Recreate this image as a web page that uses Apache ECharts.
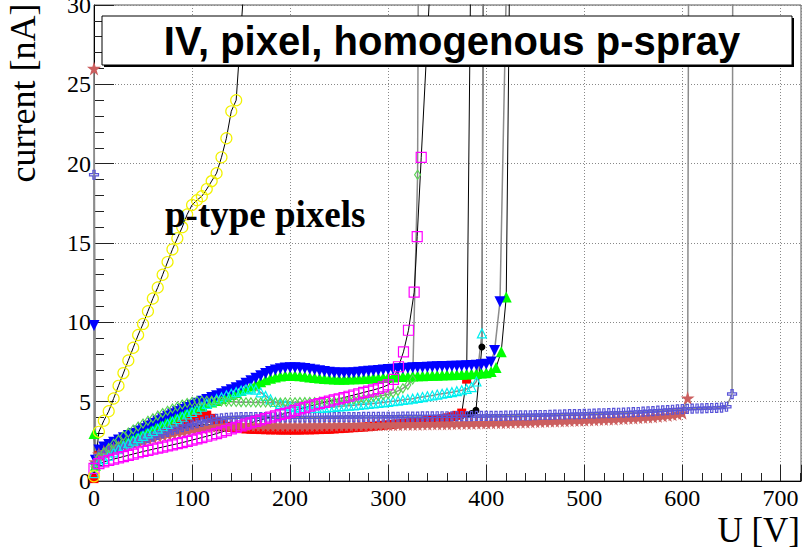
<!DOCTYPE html>
<html><head><meta charset="utf-8">
<script src="https://cdn.jsdelivr.net/npm/echarts@6/dist/echarts.min.js"></script>
<style>html,body{margin:0;padding:0;background:#fff}#c{width:808px;height:555px}</style>
</head><body><div id="c"></div>
<script>
// ---- measurement voltages of the body points (V) ----
const volts = [
  5,10,15,20,25,30,35,40,45,50,
  55,60,65,70,75,80,85,90,95,100,
  105,110,115,120,125,130,135,140,145,150,
  155,160,165,170,175,180,185,190,195,200,
  205,210,215,220,225,230,235,240,245,250,
  255,260,265,270,275,280,285,290,295,300,
  305,310,315,320,325,330,335,340,345,350,
  355,360,365,370,375,380,385,390,395,400,
  405,410,415,420,425,430,435,440,445,450,
  455,460,465,470,475,480,485,490,495,500,
  505,510,515,520,525,530,535,540,545,550,
  555,560,565,570,575,580,585,590,595,600,
  605,610,615,620,625,630,635,640,645
];
const xTicks = [0,100,200,300,400,500,600,700];
const yTicks = [0,5,10,15,20,25,30];

// ---- black filled circles ----
const blackHead = [[0,0.35]];
const blackBody = [
  1.5,1.7,1.85,2.0,2.12,2.24,2.36,2.47,2.58,2.69,
  2.8,2.9,3.0,3.08,3.15,3.2,3.25,3.3,3.33,3.36,
  3.38,3.4,3.4,3.4,3.38,3.36,3.33,3.3,3.28,3.26,
  3.24,3.22,3.21,3.2,3.19,3.18,3.18,3.17,3.17,3.17,
  3.17,3.17,3.18,3.18,3.19,3.2,3.21,3.22,3.24,3.26,
  3.28,3.3,3.32,3.34,3.36,3.38,3.41,3.44,3.47,3.5,
  3.53,3.56,3.59,3.62,3.65,3.68,3.71,3.75,3.79,3.83,
  3.88,3.93,3.99,4.05,4.12,4.18,4.25
];
const blackTail = [[389.5,4.45],[395.6,8.44],[397.6,40]];

// ---- red filled squares ----
const redHead = [[0,0.15]];
const redBody = [
  1.6,1.78,1.93,2.07,2.2,2.32,2.44,2.55,2.66,2.77,
  2.88,2.98,3.08,3.18,3.28,3.4,3.55,3.7,3.85,3.98,
  4.12,4.22,4.15,3.95,3.72,3.55,3.45,3.38,3.33,3.3,
  3.28,3.26,3.25,3.24,3.23,3.22,3.22,3.21,3.21,3.21,
  3.21,3.21,3.22,3.22,3.23,3.24,3.25,3.26,3.28,3.3,
  3.32,3.34,3.36,3.38,3.4,3.42,3.45,3.48,3.51,3.54,
  3.57,3.6,3.63,3.66,3.69,3.72,3.75,3.79,3.83,3.87,
  3.92,3.98,4.05,4.14,4.28
];
const redTail = [[380,6.42],[384.3,33]];

// ---- green filled triangles ----
const greenTriHead = [[0,3.0],[1.5,1.0]];
const greenTriBody = [
  1.75,1.95,2.1,2.25,2.4,2.55,2.7,2.85,3.0,3.15,
  3.3,3.45,3.6,3.75,3.9,4.05,4.2,4.33,4.46,4.58,
  4.68,4.78,4.88,4.98,5.08,5.2,5.32,5.45,5.58,5.7,
  5.84,5.98,6.12,6.26,6.38,6.48,6.56,6.62,6.65,6.66,
  6.65,6.63,6.6,6.56,6.52,6.49,6.46,6.44,6.43,6.42,
  6.42,6.43,6.44,6.45,6.46,6.48,6.5,6.51,6.53,6.55,
  6.56,6.58,6.59,6.6,6.62,6.63,6.64,6.65,6.66,6.67,
  6.68,6.69,6.7,6.72,6.73,6.74,6.76,6.78,6.8,6.83,
  6.9,7.15
];
const greenTriTail = [[415.3,8.15],[420.4,11.6],[425.2,40]];

// ---- blue filled triangles (down) ----
const blueTriHead = [[0,9.8],[1.5,1.3]];
const blueTriBody = [
  1.95,2.15,2.3,2.45,2.58,2.72,2.86,3.0,3.15,3.3,
  3.45,3.62,3.78,3.93,4.08,4.22,4.36,4.5,4.64,4.78,
  4.9,5.02,5.14,5.26,5.38,5.5,5.62,5.75,5.88,6.0,
  6.16,6.32,6.48,6.63,6.77,6.9,7.0,7.07,7.12,7.14,
  7.14,7.12,7.09,7.05,7.0,6.95,6.9,6.86,6.83,6.8,
  6.8,6.81,6.83,6.85,6.88,6.91,6.94,6.97,7.0,7.03,
  7.05,7.07,7.09,7.11,7.13,7.15,7.16,7.17,7.18,7.2,
  7.21,7.22,7.23,7.24,7.25,7.26,7.28,7.3,7.32,7.36,
  7.5
];
const blueTriTail = [[408.5,8.22],[414,11.3],[423.4,40]];

// ---- salmon filled stars ----
const starHead = [[0,26],[1.5,1.2]];
const starBody = [
  1.7,1.85,1.95,2.05,2.15,2.25,2.34,2.43,2.51,2.59,
  2.67,2.75,2.83,2.9,2.97,3.03,3.1,3.16,3.22,3.28,
  3.33,3.38,3.42,3.45,3.48,3.5,3.52,3.53,3.54,3.54,
  3.54,3.53,3.53,3.53,3.52,3.52,3.52,3.51,3.51,3.51,
  3.51,3.51,3.51,3.52,3.52,3.52,3.53,3.53,3.53,3.54,
  3.54,3.54,3.55,3.55,3.55,3.56,3.56,3.56,3.57,3.57,
  3.58,3.58,3.59,3.59,3.6,3.6,3.61,3.61,3.62,3.62,
  3.63,3.63,3.64,3.64,3.65,3.66,3.66,3.67,3.68,3.68,
  3.69,3.7,3.7,3.71,3.72,3.73,3.73,3.74,3.75,3.76,
  3.77,3.78,3.79,3.8,3.81,3.82,3.83,3.84,3.85,3.86,
  3.87,3.88,3.9,3.91,3.92,3.93,3.95,3.96,3.98,3.99,
  4.01,4.03,4.05,4.07,4.1,4.13,4.16,4.2,4.24,4.3
];
const starTail = [[605.4,5.23],[606.6,40]];

// ---- blue-violet open crosses ----
const crossHead = [[0,19.3],[1.5,1.1]];
const crossBody = [
  1.6,1.75,1.88,2.0,2.1,2.2,2.3,2.4,2.5,2.6,
  2.7,2.8,2.9,3.0,3.1,3.2,3.3,3.4,3.48,3.56,
  3.65,3.73,3.8,3.86,3.91,3.95,3.98,4.0,4.01,4.02,
  4.03,4.03,4.03,4.02,4.02,4.01,4.01,4.01,4.01,4.01,
  4.01,4.01,4.01,4.01,4.01,4.01,4.02,4.02,4.02,4.02,
  4.03,4.03,4.03,4.03,4.04,4.04,4.04,4.04,4.05,4.05,
  4.05,4.05,4.06,4.06,4.06,4.06,4.07,4.07,4.07,4.08,
  4.08,4.08,4.08,4.09,4.09,4.09,4.09,4.1,4.1,4.1,
  4.11,4.11,4.11,4.12,4.12,4.13,4.13,4.14,4.14,4.15,
  4.16,4.16,4.17,4.18,4.19,4.2,4.21,4.21,4.22,4.23,
  4.24,4.25,4.26,4.27,4.28,4.29,4.3,4.31,4.32,4.34,
  4.35,4.37,4.39,4.41,4.43,4.45,4.47,4.49,4.51,4.53,
  4.55,4.56,4.57,4.58,4.59,4.6,4.61,4.63,4.68
];
const crossTail = [[650.7,5.48],[651.6,40]];

// ---- cyan open triangles ----
const cyanHead = [[0,0.5]];
const cyanBody = [
  1.2,1.4,1.6,1.8,2.0,2.2,2.38,2.55,2.7,2.85,
  3.0,3.15,3.3,3.45,3.6,3.75,3.9,4.05,4.2,4.35,
  4.5,4.68,4.86,5.02,5.16,5.28,5.4,5.5,5.6,5.7,
  5.78,5.84,5.76,5.58,5.36,5.15,4.98,4.86,4.77,4.7,
  4.65,4.62,4.6,4.6,4.6,4.61,4.63,4.65,4.67,4.7,
  4.72,4.75,4.77,4.8,4.83,4.86,4.89,4.92,4.95,4.99,
  5.03,5.07,5.11,5.15,5.19,5.24,5.29,5.34,5.39,5.45,
  5.5,5.55,5.6,5.66,5.72,5.8,5.92,6.27
];
const cyanTail = [[395.6,9.3],[397.2,40]];

// ---- light green open diamonds ----
const diamHead = [[0,0.9]];
const diamBody = [
  1.5,1.8,2.08,2.35,2.6,2.84,3.05,3.25,3.44,3.62,
  3.8,3.96,4.12,4.28,4.43,4.57,4.7,4.82,4.92,5.0,
  5.04,5.06,5.06,5.05,5.04,5.02,5.0,4.99,4.98,4.97,
  4.96,4.96,4.95,4.95,4.95,4.95,4.95,4.95,4.96,4.96,
  4.96,4.97,4.97,4.98,4.98,4.99,5.0,5.01,5.02,5.04,
  5.06,5.09,5.12,5.16,5.2,5.24,5.29,5.34,5.4,5.47,
  5.56,5.68,5.84,6.05,6.4
];
const diamTail = [[330,19.3],[331.2,40]];

// ---- magenta open squares ----
const magHead = [[0,0.8]];
const magBody = [
  1.1,1.2,1.3,1.38,1.46,1.54,1.62,1.7,1.78,1.86,
  1.93,2.0,2.07,2.14,2.21,2.28,2.35,2.42,2.5,2.58,
  2.66,2.74,2.82,2.9,2.99,3.08,3.18,3.28,3.38,3.48,
  3.58,3.67,3.76,3.85,3.94,4.02,4.1,4.18,4.26,4.34,
  4.45,4.54,4.63,4.72,4.8,4.88,4.96,5.04,5.11,5.18,
  5.26,5.34,5.42,5.5,5.58,5.66,5.74,5.83,5.93,6.06
];
const magTail = [[305.4,6.4],[310.5,7.2],[315.6,8.14],[320.7,9.5],[326.5,11.9],[329.6,15.4],[333.7,20.4],[345,34]];

// ---- yellow open circles ----
const yelHead = [[0,0.3]];
const yelBody = [
  3.1,3.8,4.4,5.2,6.0,6.8,7.6,8.4,9.2,9.9,
  10.7,11.5,12.2,13.0,13.8,14.6,15.3,16.0,16.8,17.4,
  17.7,17.95,18.4,18.9,19.4,20.4,21.6,23.3,24.0
];
const yelTail = [[156,34]];

function pts(head, body, tail) {
  const out = head.map(p => p.slice());
  body.forEach((v, i) => out.push([volts[i], v]));
  return out.concat(tail);
}

const STAR = 'path://M50,0 L61,35 L98,35 L68,57 L79,91 L50,70 L21,91 L32,57 L2,35 L39,35 Z';
const CROSS = 'path://M3,0 H5 V3 H8 V5 H5 V8 H3 V5 H0 V3 H3 Z';
const CLEAR = 'rgba(0,0,0,0)';
const GREY = '#8c8c8c';

const defs = [
  {d: pts(blackHead, blackBody, blackTail), sym: 'circle', size: 7, fill: '#000', border: null, line: '#000', lw: 1},
  {d: pts(redHead, redBody, redTail), sym: 'rect', size: 9, fill: '#ff0000', border: null, line: '#000', lw: 1},
  {d: pts(greenTriHead, greenTriBody, greenTriTail), sym: 'triangle', size: 11, fill: '#00ff00', border: null, line: '#000', lw: 1},
  {d: pts(blueTriHead, blueTriBody, blueTriTail), sym: 'triangle', rot: 180, size: 11, fill: '#0000ff', border: null, line: GREY, lw: 1.5},
  {d: pts(starHead, starBody, starTail), sym: STAR, size: 14, fill: '#cc5f5f', border: null, line: GREY, lw: 1.5},
  {d: pts(crossHead, crossBody, crossTail), sym: CROSS, size: 9, fill: CLEAR, border: '#5954d8', line: GREY, lw: 1.5},
  {d: pts(cyanHead, cyanBody, cyanTail), sym: 'triangle', size: 9, fill: CLEAR, border: '#00f0f0', line: GREY, lw: 1.5},
  {d: pts(diamHead, diamBody, diamTail), sym: 'diamond', size: [6, 9], fill: CLEAR, border: '#59d454', line: GREY, lw: 1.5},
  {d: pts(magHead, magBody, magTail), sym: 'rect', size: 10, fill: CLEAR, border: '#ff00ff', line: '#000', lw: 1},
  {d: pts(yelHead, yelBody, yelTail), sym: 'circle', size: 11, fill: CLEAR, border: '#f2f200', line: '#000', lw: 1}
];

const series = defs.map(s => ({
  type: 'line',
  data: s.d,
  symbol: s.sym,
  symbolSize: s.size,
  symbolRotate: s.rot || 0,
  showSymbol: true,
  showAllSymbol: true,
  clip: true,
  silent: true,
  animation: false,
  lineStyle: {color: s.line, width: s.lw},
  itemStyle: s.border ? {color: s.fill, borderColor: s.border, borderWidth: 1.2} : {color: s.fill, borderWidth: 0},
  emphasis: {disabled: true}
}));

const SERIF = '"Liberation Serif", "Times New Roman", serif';
const chart = echarts.init(document.getElementById('c'), null, {renderer: 'svg', width: 808, height: 555});
chart.setOption({
  backgroundColor: '#fff',
  animation: false,
  grid: {left: 94, right: 7, top: 5, bottom: 74, show: true, borderColor: '#555', borderWidth: 1, backgroundColor: 'transparent', containLabel: false, outerBoundsMode: 'none'},
  xAxis: {
    type: 'value', min: 0, max: 721, interval: 100,
    axisLine: {show: true, lineStyle: {color: '#000', width: 1}},
    axisTick: {show: true, inside: true, length: 16, lineStyle: {color: '#222'}},
    minorTick: {show: true, splitNumber: 5, length: 8, lineStyle: {color: '#222'}},
    splitLine: {show: true, lineStyle: {color: '#888', type: [1, 2], width: 1}},
    axisLabel: {
      color: '#000', fontFamily: SERIF, fontSize: 24, margin: 5, showMaxLabel: false,
      formatter: v => (xTicks.indexOf(v) >= 0 ? String(v) : '')
    }
  },
  yAxis: {
    type: 'value', min: 0, max: 30, interval: 5,
    axisLine: {show: true, lineStyle: {color: '#000', width: 1}},
    axisTick: {show: true, inside: true, length: 20, lineStyle: {color: '#222'}},
    minorTick: {show: true, splitNumber: 5, length: 10, lineStyle: {color: '#222'}},
    splitLine: {show: true, lineStyle: {color: '#888', type: [1, 2], width: 1}},
    axisLabel: {
      color: '#000', fontFamily: SERIF, fontSize: 24, margin: 3,
      formatter: v => (yTicks.indexOf(v) >= 0 ? String(v) : '')
    }
  },
  graphic: [
    {type: 'rect', z: 100, shape: {x: 104, y: 18, width: 690, height: 49}, style: {fill: '#000'}},
    {type: 'rect', z: 101, shape: {x: 102, y: 16, width: 690, height: 49}, style: {fill: '#fff', stroke: '#000', lineWidth: 1}},
    {type: 'text', z: 102, x: 452, y: 41, style: {text: 'IV, pixel, homogenous p-spray', font: 'bold 40px "Liberation Sans", Arial, sans-serif', fill: '#000', textAlign: 'center', textVerticalAlign: 'middle'}},
    {type: 'text', z: 102, x: 165, y: 214, style: {text: 'p-type pixels', font: 'bold 37px ' + SERIF, fill: '#000', textAlign: 'left', textVerticalAlign: 'middle'}},
    {type: 'text', z: 102, x: 23, y: 93, rotation: Math.PI / 2, style: {text: 'current [nA]', font: '36px ' + SERIF, fill: '#000', textAlign: 'center', textVerticalAlign: 'middle'}},
    {type: 'text', z: 102, x: 800, y: 530, style: {text: 'U [V]', font: '35px ' + SERIF, fill: '#000', textAlign: 'right', textVerticalAlign: 'middle'}}
  ],
  series: series
});
</script></body></html>
